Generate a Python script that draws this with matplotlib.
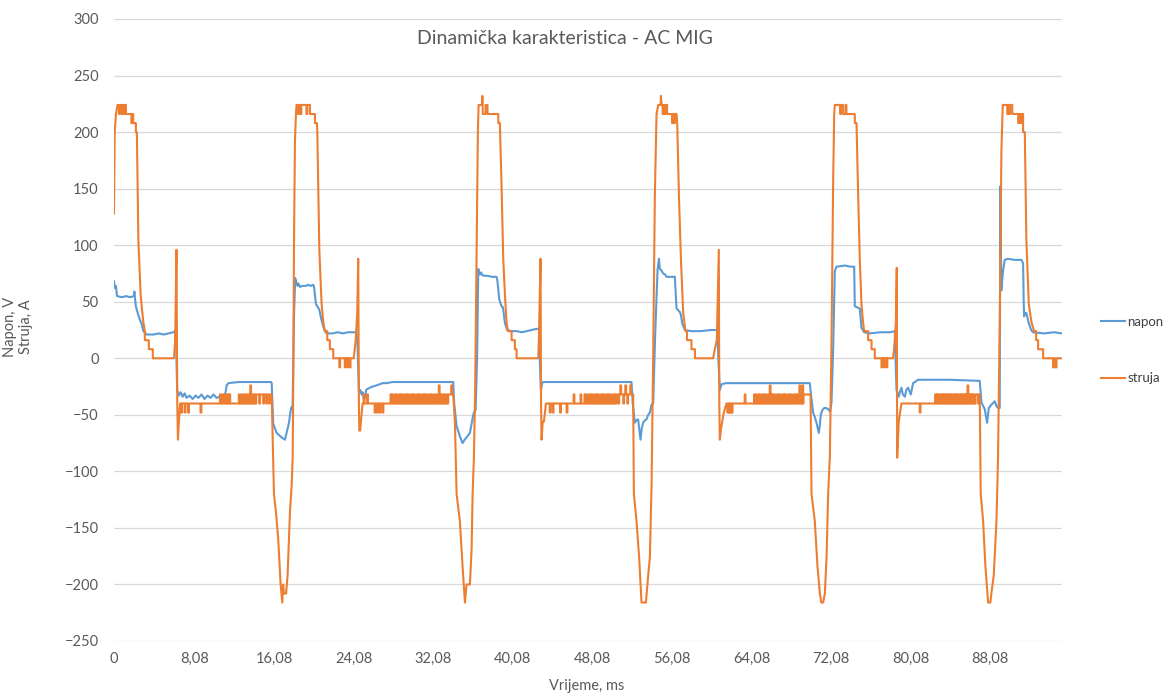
import numpy as np
import matplotlib
matplotlib.use("Agg")
import matplotlib.pyplot as plt

plt.rcParams['font.family'] = ['Lato', 'DejaVu Sans']

# vrijeme u ms, vrijednosti ocitane sa slike
x_ticks = [0, 8.08, 16.08, 24.08, 32.08, 40.08, 48.08, 56.08, 64.08, 72.08, 80.08, 88.08]
x_labels = ["0", "8,08", "16,08", "24,08", "32,08", "40,08", "48,08", "56,08", "64,08", "72,08", "80,08", "88,08"]
y_ticks = [-250, -200, -150, -100, -50, 0, 50, 100, 150, 200, 250, 300]

# napon (V) - tocke (t, V)
napon_1 = [(0.0, 68), (0.1, 62), (0.2, 64), (0.3, 55), (0.8, 54), (1.2, 55), (1.6, 54), (2.0, 55), (2.05, 59),
           (2.1, 54), (2.2, 46), (2.45, 38), (2.65, 33), (2.8, 30), (2.95, 24), (3.28, 21), (4.0, 21), (4.5, 22),
           (5.0, 21), (5.5, 22), (5.96, 23), (6.13, 24), (6.25, 10), (6.35, -28), (6.5, -33), (6.7, -30), (6.9, -34),
           (7.1, -31), (7.3, -35), (7.6, -33), (7.9, -36), (8.2, -33), (8.5, -35), (8.8, -32), (9.1, -36), (9.4, -33),
           (9.7, -35), (10.0, -32), (10.3, -35), (10.6, -34), (10.9, -34), (11.2, -31), (11.32, -24), (11.5, -22),
           (12.5, -21), (15.8, -21), (15.85, -22), (16.01, -58), (16.35, -66), (16.6, -68), (16.85, -70), (17.18, -72),
           (17.35, -66), (17.59, -57), (17.76, -46), (17.86, -43), (17.95, -45), (18.09, 37)]
napon_2 = [(18.22, 71), (18.35, 67), (18.45, 64), (18.55, 66), (18.7, 63), (18.9, 64), (19.3, 64), (19.5, 65),
           (19.8, 64), (20.0, 65), (20.1, 64), (20.2, 56), (20.3, 48), (20.5, 45), (20.64, 43), (20.8, 36), (21.04, 28),
           (21.2, 24), (21.37, 22), (22.0, 22), (22.5, 23), (23.0, 22), (23.5, 23), (24.0, 23), (24.39, 23), (24.49, 10),
           (24.62, -30), (24.75, -28), (24.89, -32), (25.0, -30), (25.1, -36), (25.23, -35), (25.35, -28), (25.5, -27),
           (25.73, -26), (26.0, -25), (26.4, -24), (27.0, -22), (27.4, -22), (28.0, -21), (30.0, -21), (34.1, -21),
           (34.2, -40), (34.44, -60), (34.77, -69), (35.04, -75), (35.25, -72), (35.44, -70), (35.78, -66),
           (35.95, -58), (36.05, -53), (36.18, -48), (36.35, -46), (36.5, 0)]
napon_3 = [(36.62, 79), (36.7, 76), (36.79, 74), (36.9, 76), (37.0, 74), (37.12, 73), (37.5, 73), (38.0, 72),
           (38.46, 72), (38.55, 68), (38.73, 52), (38.96, 46), (39.1, 45), (39.3, 31), (39.53, 25), (40.0, 24),
           (40.5, 24), (41.0, 23), (41.5, 24), (42.0, 25), (42.48, 26), (42.75, 26), (42.8, 0), (42.91, -28),
           (43.05, -22), (43.15, -21), (45.0, -21), (52.02, -21), (52.15, -40), (52.36, -57), (52.5, -55),
           (52.69, -54), (52.85, -66), (52.93, -72), (53.05, -62), (53.2, -57), (53.35, -55), (53.53, -54),
           (53.7, -50), (53.87, -48), (54.04, -41), (54.2, -40)]
napon_4 = [(54.4, 20), (54.64, 78), (54.78, 88), (54.87, 79), (55.0, 78), (55.21, 75), (55.4, 74), (55.54, 72),
           (56.0, 72), (56.38, 72), (56.45, 60), (56.55, 44), (56.88, 41), (57.0, 38), (57.12, 31), (57.39, 25),
           (58.0, 24), (59.0, 24), (60.0, 25), (60.57, 25), (60.67, 24), (60.75, 0), (60.9, -28), (61.07, -23),
           (61.5, -22), (65.0, -22), (69.95, -22), (70.1, -35), (70.28, -48), (70.45, -52), (70.62, -57),
           (70.85, -66), (70.95, -60), (71.05, -50), (71.2, -46), (71.39, -44), (71.6, -44), (71.79, -45),
           (71.99, -47), (72.13, -39)]
napon_5 = [(72.3, 10), (72.46, 77), (72.63, 81), (73.5, 82), (74.0, 81), (74.41, 81), (74.47, 46), (74.97, 44),
           (75.14, 27), (75.41, 23), (76.0, 22), (77.0, 23), (78.0, 23), (78.49, 24), (78.66, -28), (78.89, -34),
           (79.0, -30), (79.16, -26), (79.3, -32), (79.5, -34), (79.65, -28), (79.83, -26), (80.1, -32),
           (80.33, -22), (80.84, -19), (84.0, -19), (87.03, -20), (87.2, -39), (87.53, -45), (87.77, -57),
           (87.94, -44), (88.2, -41), (88.54, -38), (88.7, -42), (88.87, -44), (89.04, -44)]
napon_6 = [(89.1, 152), (89.2, 60), (89.37, 77), (89.54, 87), (89.88, 88), (90.5, 87), (91.22, 87), (91.39, 84),
           (91.45, 50), (91.49, 37), (91.6, 40), (91.72, 40), (91.96, 31), (92.2, 25), (92.39, 23), (93.5, 22),
           (94.5, 23), (95.28, 22)]

# struja (A) - osnovni oblik (t, A)
struja_1 = [(0.0, 128), (0.07, 200), (0.2, 216), (0.35, 224), (1.2, 224), (1.2, 216), (1.75, 216), (1.75, 208),
            (2.2, 208), (2.2, 200), (2.3, 200), (2.45, 104), (2.68, 56), (2.85, 40), (2.95, 32), (3.1, 24),
            (3.1, 16), (3.5, 16), (3.5, 8), (3.9, 8), (3.9, 0), (6.03, 0), (6.15, 16), (6.28, 96), (6.36, -40),
            (6.43, -72), (6.52, -56), (6.65, -40), (14.3, -40), (14.3, -32), (15.85, -32), (15.91, -56),
            (16.08, -120), (16.28, -136), (16.51, -160), (16.75, -200), (16.92, -216), (17.0, -200), (17.09, -208),
            (17.3, -208), (17.45, -192), (17.69, -136), (17.86, -112), (17.96, -88), (18.02, -24), (18.09, 96),
            (18.19, 192), (18.29, 216)]
struja_2 = [(18.35, 224), (19.7, 224), (19.7, 216), (20.2, 216), (20.2, 208), (20.4, 208), (20.44, 200),
            (20.64, 96), (20.87, 48), (21.04, 32), (21.2, 24), (21.44, 24), (21.44, 16), (21.7, 16), (21.7, 8),
            (22.04, 8), (22.04, 0), (24.1, 0), (24.3, 16), (24.45, 40), (24.55, 88), (24.62, -40), (24.66, -64),
            (24.75, -64), (24.82, -56), (24.99, -40), (33.6, -40), (33.6, -32), (34.1, -32), (34.27, -56),
            (34.44, -120), (34.77, -144), (35.04, -184), (35.28, -216), (35.44, -200), (35.78, -200), (35.95, -168),
            (36.05, -120), (36.18, -88), (36.31, -24), (36.45, 96), (36.58, 200)]
struja_3 = [(36.65, 224), (37.0, 224), (37.03, 232), (37.08, 216), (37.35, 216), (37.35, 224), (37.55, 224),
            (37.55, 216), (38.63, 216), (38.63, 208), (38.79, 208), (38.96, 152), (39.13, 88), (39.3, 56),
            (39.46, 32), (39.6, 24), (39.97, 24), (39.97, 16), (40.3, 16), (40.3, 8), (40.47, 8), (40.47, 0),
            (42.65, 0), (42.71, 16), (42.88, 88), (42.93, -40), (42.98, -72), (43.1, -56), (43.22, -56),
            (43.42, -40), (50.5, -40), (50.5, -32), (52.19, -32), (52.26, -120), (52.53, -144), (52.79, -176),
            (53.03, -216), (53.47, -216), (53.7, -192), (53.87, -176), (54.04, -112), (54.2, 0), (54.37, 144)]
struja_4 = [(54.54, 216), (54.71, 224), (54.95, 224), (54.98, 232), (55.05, 224), (55.6, 224), (55.6, 216),
            (56.55, 216), (56.62, 208), (56.79, 144), (56.99, 88), (57.22, 40), (57.45, 24), (57.6, 24), (57.6, 16),
            (58.05, 16), (58.05, 8), (58.4, 8), (58.4, 0), (60.23, 0), (60.4, 8), (60.6, 16), (60.8, 96),
            (60.85, -40), (60.9, -72), (61.0, -64), (61.14, -56), (61.3, -48), (61.57, -40), (69.3, -40),
            (69.3, -32), (70.02, -32), (70.12, -120), (70.45, -144), (70.72, -184), (70.96, -208), (71.1, -216),
            (71.29, -216), (71.46, -208), (71.63, -176), (71.79, -120), (71.96, -88), (72.13, 16), (72.3, 160),
            (72.4, 216)]
struja_5 = [(72.46, 224), (73.3, 224), (73.3, 216), (74.47, 216), (74.47, 208), (74.64, 208), (74.81, 144),
            (74.97, 88), (75.14, 48), (75.3, 32), (75.41, 24), (75.81, 24), (75.81, 16), (76.15, 16), (76.15, 8),
            (76.48, 8), (76.48, 0), (78.33, 0), (78.49, 16), (78.6, 32), (78.69, 80), (78.73, -88), (78.89, -56),
            (79.16, -40), (86.6, -40), (86.6, -32), (87.03, -32), (87.13, -120), (87.37, -144), (87.6, -184),
            (87.87, -216), (88.1, -216), (88.2, -208), (88.44, -192), (88.71, -144), (88.87, -88), (89.04, 32),
            (89.21, 184)]
struja_6 = [(89.35, 224), (90.3, 224), (90.3, 216), (91.39, 216), (91.39, 200), (91.56, 200), (91.72, 104),
            (91.96, 48), (92.23, 32), (92.49, 24), (92.7, 24), (92.7, 16), (92.9, 16), (92.9, 8), (93.4, 8),
            (93.4, 0), (94.4, 0), (94.4, -8), (94.5, -8), (94.5, 0), (94.6, 0), (94.6, -8), (94.75, -8),
            (94.75, 0), (95.28, 0)]

# kratki skokovi struje (kvantizacijski sum): (t, razina)
struja_skokovi = [
    (0.5, 216), (0.75, 216), (0.95, 216), (1.85, 216), (6.75, -48), (7.1, -48), (7.45, -48), (8.7, -48),
    (10.65, -32), (10.85, -32), (11.05, -32), (11.25, -32), (11.45, -32), (11.6, -32), (12.55, -32),
    (12.75, -32), (12.95, -32), (13.15, -32), (13.35, -32), (13.55, -32), (13.7, -24), (13.9, -32),
    (14.1, -32), (14.6, -40), (15.0, -40), (15.3, -40), (15.6, -40),
    (18.5, 216), (18.75, 216), (19.35, 216), (22.65, -8), (23.2, -8), (23.45, -8), (23.7, -8),
    (25.1, -32), (25.45, -32), (26.2, -48), (26.45, -48), (26.7, -48), (27.0, -48),
    (27.8, -32), (27.95, -32), (28.2, -32), (28.35, -32), (28.6, -32), (28.8, -32), (28.95, -32), (29.2, -32),
    (29.4, -32), (29.55, -32), (29.8, -32), (30.0, -32), (30.15, -32), (30.4, -32), (30.6, -32), (30.75, -32),
    (31.0, -32), (31.2, -32), (31.35, -32), (31.6, -32), (31.8, -32), (31.95, -32), (32.2, -32), (32.4, -32),
    (32.65, -24), (32.8, -32), (33.0, -32), (33.2, -32), (33.4, -32), (33.9, -24),
    (43.8, -48), (44.1, -48), (44.85, -48), (45.5, -48),
    (46.2, -32), (46.9, -32), (47.3, -32), (47.45, -32), (47.7, -32), (47.9, -32), (48.05, -32), (48.3, -32),
    (48.5, -32), (48.65, -32), (48.9, -32), (49.1, -32), (49.25, -32), (49.5, -32), (49.7, -32), (49.85, -32),
    (50.1, -32), (50.3, -32), (50.7, -40), (50.9, -24), (51.2, -40), (51.4, -24), (51.6, -40), (51.9, -24),
    (55.15, 216), (55.35, 216), (56.1, 208), (56.3, 208), (61.65, -48), (61.8, -48), (61.95, -48), (62.1, -48),
    (63.4, -32), (64.35, -32), (64.5, -32), (64.75, -32), (64.9, -32), (65.1, -32), (65.3, -32), (65.45, -32),
    (65.7, -32), (65.92, -24), (66.1, -32), (66.25, -32), (66.5, -32), (66.7, -32), (66.85, -32), (67.1, -32),
    (67.3, -32), (67.45, -32), (67.7, -32), (67.9, -32), (68.05, -32), (68.3, -32), (68.5, -32), (68.65, -32),
    (68.9, -24), (69.05, -32), (69.2, -24),
    (73.0, 216), (73.55, 224), (77.15, -8), (77.4, -8), (77.66, -8), (81.0, -48),
    (82.55, -32), (82.7, -32), (82.85, -32), (83.05, -32), (83.2, -32), (83.35, -32), (83.5, -32), (83.7, -32),
    (83.85, -32), (84.0, -32), (84.15, -32), (84.35, -32), (84.5, -32), (84.65, -32), (84.8, -32), (85.0, -32),
    (85.15, -32), (85.3, -32), (85.45, -32), (85.6, -32), (85.8, -24), (85.95, -32), (86.1, -32), (86.25, -32),
    (86.4, -32), (86.85, -40),
    (89.8, 216), (90.0, 216), (90.9, 208), (91.1, 208),
]


def sastavi(tocke, skokovi=(), sirina=0.08):
    t = np.array([p[0] for p in tocke])
    v = np.array([p[1] for p in tocke])
    sve = list(tocke)
    for ts, razina in skokovi:
        baza = np.interp(ts, t, v)
        sve += [(ts, baza), (ts, razina), (ts + sirina, razina), (ts + sirina, baza)]
    sve.sort(key=lambda p: p[0])
    return [p[0] for p in sve], [p[1] for p in sve]


napon_t, napon = sastavi(napon_1 + napon_2 + napon_3 + napon_4 + napon_5 + napon_6)
struja_t, struja = sastavi(struja_1 + struja_2 + struja_3 + struja_4 + struja_5 + struja_6, struja_skokovi)

fig = plt.figure(figsize=(11.73, 6.95), dpi=100)
ax = fig.add_axes([114 / 1173, 1 - 641 / 695, 948 / 1173, 622 / 695])

ax.plot(napon_t, napon, color='#5B9BD5', lw=1.5, label='napon')
ax.plot(struja_t, struja, color='#ED7D31', lw=1.5, label='struja')

ax.set_xlim(0, 95.3)
ax.set_ylim(-250, 300)
ax.set_yticks(y_ticks)
ax.set_xticks(x_ticks)
ax.set_xticklabels(x_labels)
ax.grid(axis='y', color='#D9D9D9', lw=0.9)
ax.set_axisbelow(True)
for s in ax.spines.values():
    s.set_visible(False)
ax.tick_params(axis='both', length=0, labelsize=10.5, colors='#595959')
ax.tick_params(axis='y', pad=11)
ax.tick_params(axis='x', pad=8)

fig.text(565 / 1173, 1 - 38 / 695, 'Dinamička karakteristica - AC MIG', ha='center', va='center',
         fontsize=14, color='#595959')
fig.text(18 / 1173, 1 - 327 / 695, 'Napon, V\nStruja, A', ha='center', va='center', rotation=90,
         multialignment='center', fontsize=10.5, color='#595959')
fig.text(587 / 1173, 1 - 686 / 695, 'Vrijeme, ms', ha='center', va='center', fontsize=10.5, color='#595959')

fig.legend(loc='center left', bbox_to_anchor=(1101 / 1173, 1 - 350 / 695), frameon=False,
           handlelength=1.8, handletextpad=0.2, labelspacing=3.4, borderpad=0, borderaxespad=0,
           fontsize=9.5, labelcolor='#404040')

fig.savefig('out.png', dpi=100)
